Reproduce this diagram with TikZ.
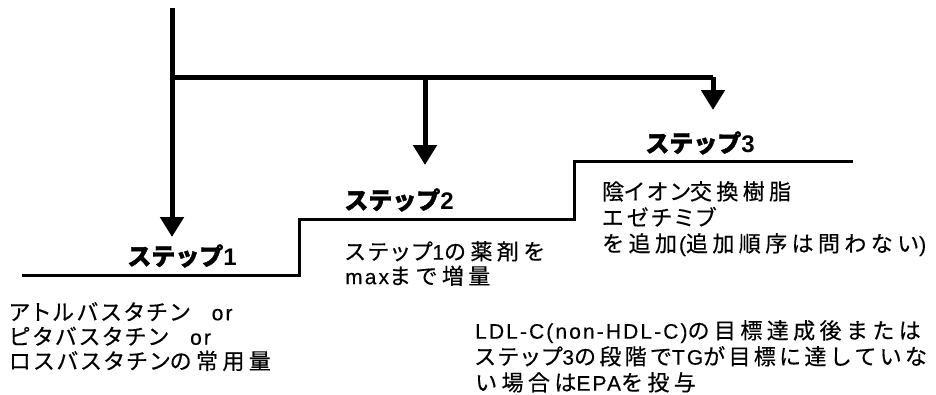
\documentclass[tikz,border=0pt]{standalone}
\usepackage{fontspec}
\newfontfamily\jp[LetterSpace=20,FakeBold=0.4]{Noto Sans CJK JP}
\newfontfamily\jpn[LetterSpace=15,FakeBold=0.4]{Noto Sans CJK JP}
\newfontfamily\ktf[LetterSpace=15,RawFeature=+palt,FakeBold=0.4]{Noto Sans CJK JP}
\newfontfamily\latf[LetterSpace=10,FakeBold=0.3]{Liberation Sans}
\newfontfamily\jph[BoldFeatures={FakeBold=1.5}]{Noto Sans CJK JP}
\newfontfamily\lath{Liberation Sans}
\newcommand\ltn[1]{{\latf\fontsize{21}{22}\selectfont #1}}
\newcommand\kk[1]{{\ktf #1}}
\newcommand\nn[1]{{\jpn #1}}
\newcommand\lth[1]{{\lath\bfseries #1}}
\usetikzlibrary{arrows.meta}
\begin{document}
\begin{tikzpicture}[x=1pt,y=-1pt,
  main/.style={line width=5pt},
  arr/.style={main,-{Triangle[width=23pt,length=20pt]}},
  stair/.style={line width=3pt,line join=miter},
  head/.style={font=\jph\bfseries\fontsize{24}{28}\selectfont,inner sep=0pt},
  body/.style={font=\jp\fontsize{22}{#1}\selectfont,align=left,anchor=north west,inner sep=0pt}]
\useasboundingbox (0,0) rectangle (936,394);

% coordinates
\coordinate (top) at (172,8);
\coordinate (junc) at (172,77);
\coordinate (br) at (425,77);
\coordinate (corner) at (713,77);
\coordinate (t1) at (172,237);
\coordinate (t2) at (425,165);
\coordinate (t3) at (713,110);

% headings
\node[head] (s1) at (182,256) {ステップ\lth{1}};
\node[head] (s2) at (399,200) {ステップ\lth{2}};
\node[head] (s3) at (700,143) {ステップ\lth{3}};

% staircase
\coordinate (a0) at (22,275);
\coordinate (a1) at (299,275);
\coordinate (a2) at (299,219);
\coordinate (a3) at (574,219);
\coordinate (a4) at (574,161);
\coordinate (a5) at (853,161);
\draw[stair] (a0) -- (a1) -- (a2) -- (a3) -- (a4) -- (a5);

% arrows
\draw[main] (top) -- (junc);
\draw[arr] (junc) -- (t1);
\draw[main] (junc) -- (corner);
\draw[arr] (corner) -- (t3);
\draw[arr] (br) -- (t2);

% texts
\node[body=24.5] (d1) at (9,302) {\kk{アトルバスタチン}\hspace{22pt}\ltn{or}\\\kk{ピタバスタチン}\hspace{22pt}\ltn{or}\\\kk{ロスバスタチン}の常用量};
\node[body=24.5] (d2) at (345,241) {\kk{ステップ}\ltn{1}の薬剤を\\\ltn{max}まで増量};
\node[body=26] (d3) at (602,181) {陰\kk{イオン}交換樹脂\\\kk{エゼチミブ}\\を追加\hspace{2pt}\ltn{(}追加順序は問わない\ltn{)}};
\node[body=26] (d4) at (475,320) {\ltn{LDL-C(non-HDL-C)}の目標達成後または\\\kk{ステップ}\ltn{3}\nn{の段階で}\ltn{TG}\nn{が目標に達していな}\\い場合は\ltn{EPA}を投与};
\end{tikzpicture}
\end{document}
